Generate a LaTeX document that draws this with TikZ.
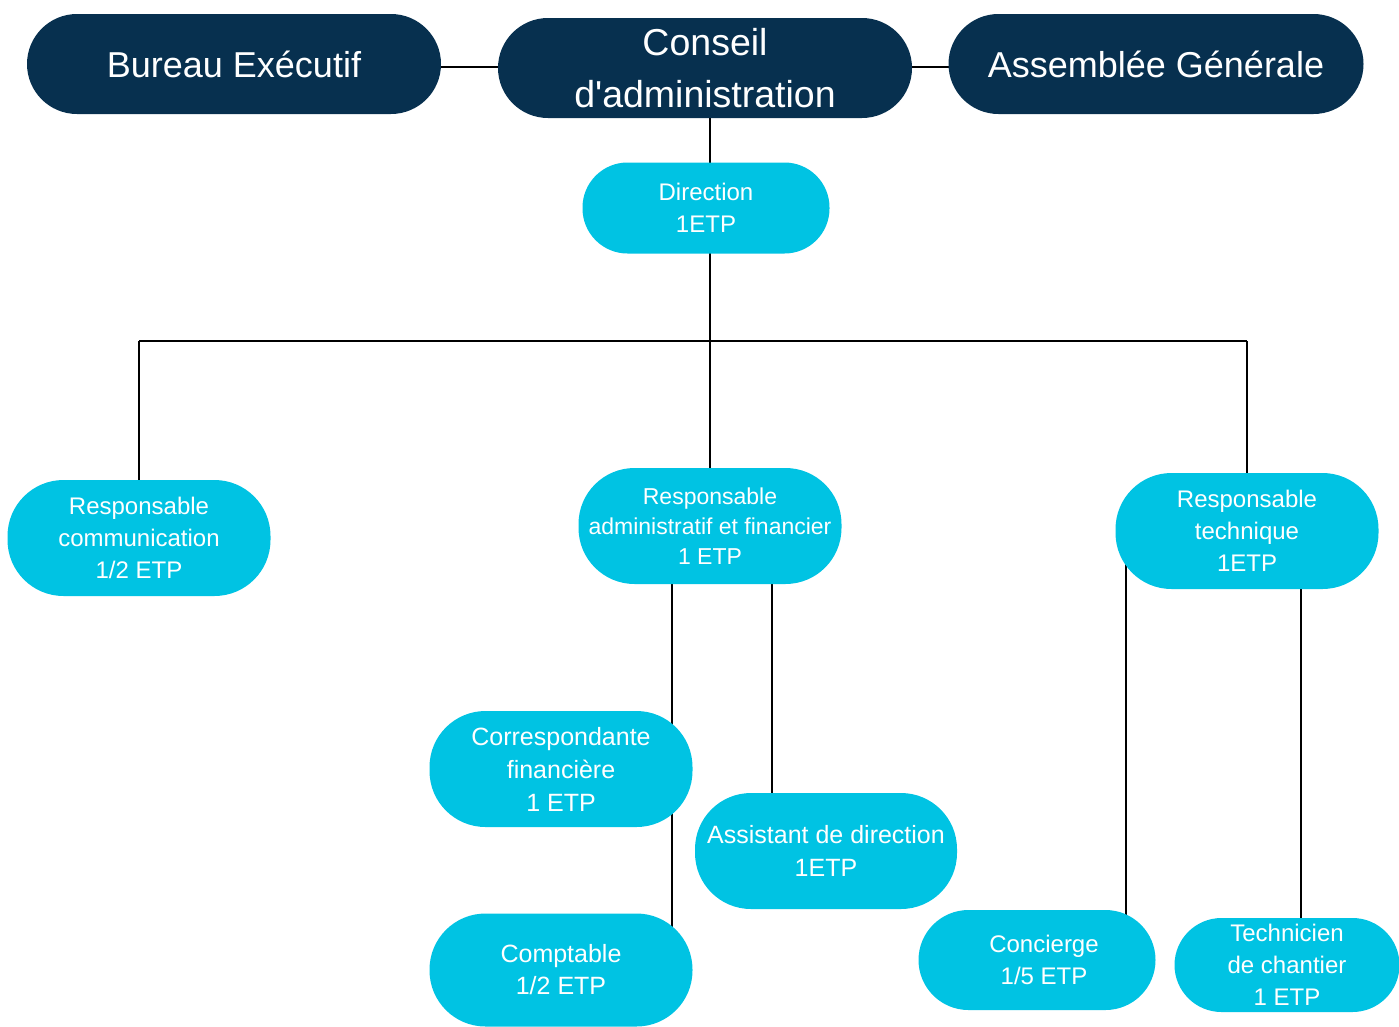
\documentclass[tikz,border=0pt]{standalone}
\usepackage{fontspec}
\setmainfont{Liberation Sans}[Ligatures=TeXOff]
\pgfdeclarelayer{background}
\pgfsetlayers{background,main}
\definecolor{navy}{HTML}{07304F}
\definecolor{cyanbox}{HTML}{00C3E3}
\tikzset{
  pillbase/.style={rectangle, text=white, inner sep=0pt, align=center},
  topbox/.style={pillbase, fill=navy, minimum width=414pt, minimum height=100pt, rounded corners=50pt, font=\fontsize{36}{52}\selectfont},
  rolebox/.style={pillbase, fill=cyanbox, minimum width=263pt, minimum height=116pt, rounded corners=56pt, font=\fontsize{24}{32}\selectfont},
  link/.style={draw=black, line width=1.8pt}
}
\begin{document}
\begin{tikzpicture}[x=1pt,y=-1pt]
\useasboundingbox (0,0) rectangle (1399,1026);
% top row
\node[topbox] (be) at (234,64) {Bureau Exécutif};
\node[topbox, font=\fontsize{37.5}{52}\selectfont] (ca) at (705,68) {Conseil\\d'administration};
\node[topbox, minimum width=415pt] (ag) at (1156,64) {Assemblée Générale};
% direction
\node[rolebox, minimum width=247pt, minimum height=91pt, rounded corners=45pt] (dir) at (706,208) {Direction\\1ETP};
% level 2
\node[rolebox] (rc) at (139,538) {Responsable\\communication\\1/2 ETP};
\node[rolebox, font=\fontsize{23}{30}\selectfont] (ra) at (710,526) {\raisebox{0pt}[0pt][0pt]{}Responsable\\administratif et financier\\1 ETP};
\node[rolebox] (rt) at (1247,531) {Responsable\\technique\\1ETP};
% level 3
\node[rolebox, font=\fontsize{25}{33}\selectfont] (cf) at (561,769) {Correspondante\\financière\\1 ETP};
\node[rolebox, minimum width=262pt, font=\fontsize{25}{33}\selectfont] (as) at (826,851) {Assistant de direction\\1ETP};
\node[rolebox, minimum height=113pt, font=\fontsize{25}{32}\selectfont] (cp) at (561,970) {Comptable\\1/2 ETP};
\node[rolebox, minimum width=237pt, minimum height=100pt, rounded corners=50pt] (cn) at (1037,960) {\hspace*{14pt}Concierge\\\hspace*{14pt}1/5 ETP};
\node[rolebox, minimum width=225pt, minimum height=94pt, rounded corners=47pt] (tc) at (1287,965) {Technicien\\de chantier\\1 ETP};
% helper coordinates
\coordinate (bus) at (710,341);
\coordinate (xa) at (672,0);
\coordinate (xb) at (772,0);
\coordinate (xc) at (1126,0);
\coordinate (xd) at (1301,0);
\begin{pgfonlayer}{background}
\draw[link] (be.center |- 0,67) -- (ca.center |- 0,67);
\draw[link] (ca.center |- 0,67) -- (ag.center |- 0,67);
\draw[link] (ca.center -| bus) -- (dir.center -| bus);
\draw[link] (dir.center -| bus) -- (bus);
\draw[link] (bus -| rc) -- (bus -| rt);
\draw[link] (bus -| rc) -- (rc.center);
\draw[link] (bus) -- (ra.center);
\draw[link] (bus -| rt) -- (rt.center);
\draw[link] (ra.center -| xa) -- (cp.center -| xa);
\draw[link] (ra.center -| xb) -- (as.center -| xb);
\draw[link] (rt.center -| xc) -- (cn.center -| xc);
\draw[link] (rt.center -| xd) -- (tc.center -| xd);
\end{pgfonlayer}
\end{tikzpicture}
\end{document}
